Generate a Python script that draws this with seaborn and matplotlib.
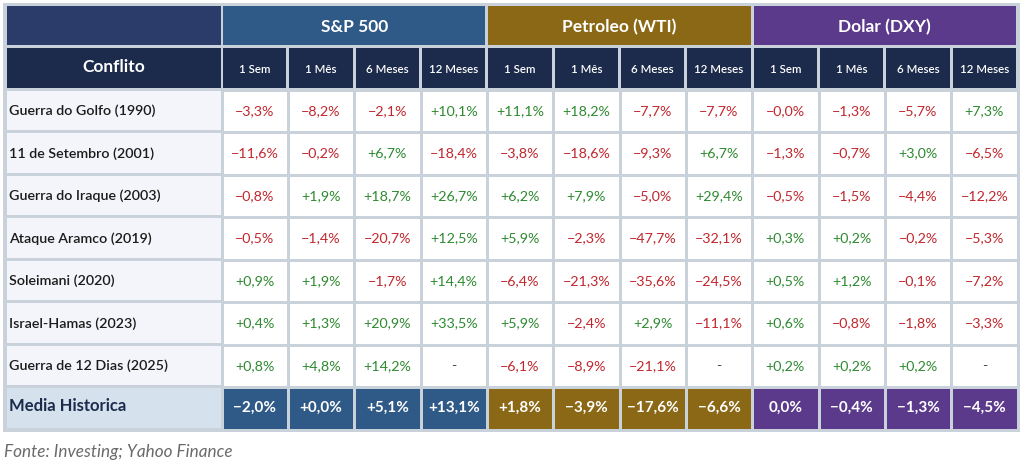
import numpy as np
import pandas as pd
import matplotlib.pyplot as plt
from matplotlib.colors import ListedColormap
from matplotlib.patches import Rectangle
import seaborn as sns

# Table content
conflicts = ["Guerra do Golfo (1990)", "11 de Setembro (2001)", "Guerra do Iraque (2003)",
             "Ataque Aramco (2019)", "Soleimani (2020)", "Israel-Hamas (2023)",
             "Guerra de 12 Dias (2025)"]
assets = ["S&P 500", "Petroleo (WTI)", "Dolar (DXY)"]
horizons = ["1 Sem", "1 Mês", "6 Meses", "12 Meses"]
nan = np.nan

sp500 = [[-3.3, -8.2, -2.1, 10.1],
         [-11.6, -0.2, 6.7, -18.4],
         [-0.8, 1.9, 18.7, 26.7],
         [-0.5, -1.4, -20.7, 12.5],
         [0.9, 1.9, -1.7, 14.4],
         [0.4, 1.3, 20.9, 33.5],
         [0.8, 4.8, 14.2, nan]]
wti = [[11.1, 18.2, -7.7, -7.7],
       [-3.8, -18.6, -9.3, 6.7],
       [6.2, 7.9, -5.0, 29.4],
       [5.9, -2.3, -47.7, -32.1],
       [-6.4, -21.3, -35.6, -24.5],
       [5.9, -2.4, 2.9, -11.1],
       [-6.1, -8.9, -21.1, nan]]
dxy = [[-0.04, -1.3, -5.7, 7.3],
       [-1.3, -0.7, 3.0, -6.5],
       [-0.5, -1.5, -4.4, -12.2],
       [0.3, 0.2, -0.2, -5.3],
       [0.5, 1.2, -0.1, -7.2],
       [0.6, -0.8, -1.8, -3.3],
       [0.2, 0.2, 0.2, nan]]
avg_sp500 = [-2.0, 0.04, 5.1, 13.1]
avg_wti = [1.8, -3.9, -17.6, -6.6]
avg_dxy = [0.0, -0.4, -1.3, -4.5]
avg_label = "Media Historica"
source = "Fonte: Investing; Yahoo Finance"

# colours
FRAME = "#c9d1db"
CORNER = "#2c3c6a"
SUBHEAD = "#1c2a4b"
ASSET_COLORS = ["#2f5986", "#8a6815", "#5b3a8b"]
ROWBG = "#f3f5fa"
AVGBG = "#d5e2ee"
RED = "#c0272d"
GREEN = "#2e8a30"

FONT = ["Lato", "DejaVu Sans"]


def fmt(v):
    if np.isnan(v):
        return "-"
    if v == 0 and not np.signbit(v):
        return "0,0%"
    s = "+" if v > 0 else "\u2212"
    return s + f"{abs(v):.1f}".replace(".", ",") + "%"


body = np.hstack([np.array(sp500), np.array(wti), np.array(dxy)])
avg = np.hstack([avg_sp500, avg_wti, avg_dxy])
values = np.vstack([body, avg])
labels = np.array([[fmt(v) for v in row] for row in values])
codes = np.zeros(values.shape)
codes[-1] = np.repeat(np.arange(1, len(assets) + 1), len(horizons))
cols = pd.MultiIndex.from_product([assets, horizons])
df_codes = pd.DataFrame(codes, index=conflicts + [avg_label], columns=cols)

sns.set_theme(style="white")
plt.rcParams["font.family"] = FONT

W, H = 1024, 469
fig = plt.figure(figsize=(W / 100, H / 100), dpi=100)
fig.patch.set_facecolor("white")
base = fig.add_axes([0, 0, 1, 1])
base.set_xlim(0, W)
base.set_ylim(H, 0)
base.axis("off")

# grid geometry in pixels
X0, XF, XD = 7, 221, 223          # first column left/right, data left
P = (1016 - XD + 3) / 12          # data column pitch
Y0, R = 6, 42.5                   # top, row pitch
GAP = 3
ncol = len(assets) * len(horizons)
nrow = len(conflicts) + 1

base.add_patch(Rectangle((3, 3), 1017, 429, fc=FRAME, ec="none"))


def cell(x, y, w, h, color):
    base.add_patch(Rectangle((x, y), w, h, fc=color, ec="none"))


# header row 1: asset groups
cell(X0, Y0, XF - X0, R - GAP, CORNER)
for g, name in enumerate(assets):
    x = XD + g * len(horizons) * P
    w = len(horizons) * P - GAP
    cell(x, Y0, w, R - GAP, ASSET_COLORS[g])
    base.text(x + w / 2, Y0 + (R - GAP) / 2 + 1, name, color="white", fontsize=12.5,
              fontweight="bold", ha="center", va="center")

# header row 2: horizons
y = Y0 + R
cell(X0, y, XF - X0, R - GAP, SUBHEAD)
base.text((X0 + XF) / 2, y + (R - GAP) / 2 - 1, "Conflito", color="white", fontsize=12.5,
          fontweight="bold", ha="center", va="center")
for j in range(ncol):
    x = XD + j * P
    cell(x, y, P - GAP, R - GAP, SUBHEAD)
    base.text(x + (P - GAP) / 2, y + (R - GAP) / 2 + 1, horizons[j % len(horizons)],
              color="white", fontsize=8.3, fontweight="semibold", ha="center", va="center")

# first column labels
for i, name in enumerate(df_codes.index):
    y = Y0 + (i + 2) * R
    last = i == nrow - 1
    cell(X0, y, XF - X0, R - GAP, AVGBG if last else ROWBG)
    base.text(X0 + 2, y + (R - GAP) / 2 - (2 if last else 0), name,
              color=SUBHEAD if last else "#1b1b1b",
              fontsize=12 if last else 10.3, fontweight="bold" if last else "semibold",
              ha="left", va="center")

base.text(4, 452, source, color="#6a6a6a", fontsize=12.3, style="italic",
          ha="left", va="center")

# data block as a heatmap
left = XD - GAP / 2
top = Y0 + 2 * R - GAP / 2
right = XD + ncol * P - GAP / 2
bottom = Y0 + (2 + nrow) * R - GAP / 2
hax = fig.add_axes([left / W, 1 - bottom / H, (right - left) / W, (bottom - top) / H])
cmap = ListedColormap(["white"] + ASSET_COLORS)
sns.heatmap(df_codes, ax=hax, cmap=cmap, vmin=-0.5, vmax=3.5, cbar=False,
            linewidths=GAP * 72 / 100, linecolor=FRAME, annot=labels, fmt="",
            annot_kws={"fontsize": 10.3, "family": FONT})
hax.set_xticks([])
hax.set_yticks([])
hax.set_xlabel("")
hax.set_ylabel("")

for t in hax.texts:
    cx, cy = t.get_position()
    i = int(cy)
    txt = t.get_text()
    if i == nrow - 1:
        t.set_color("white")
        t.set_fontweight("bold")
        t.set_fontsize(11)
    elif txt.startswith("+"):
        t.set_color(GREEN)
    elif txt.startswith("\u2212"):
        t.set_color(RED)
    else:
        t.set_color("#444444")

fig.savefig("out.png", dpi=100, facecolor="white")
plt.close(fig)
